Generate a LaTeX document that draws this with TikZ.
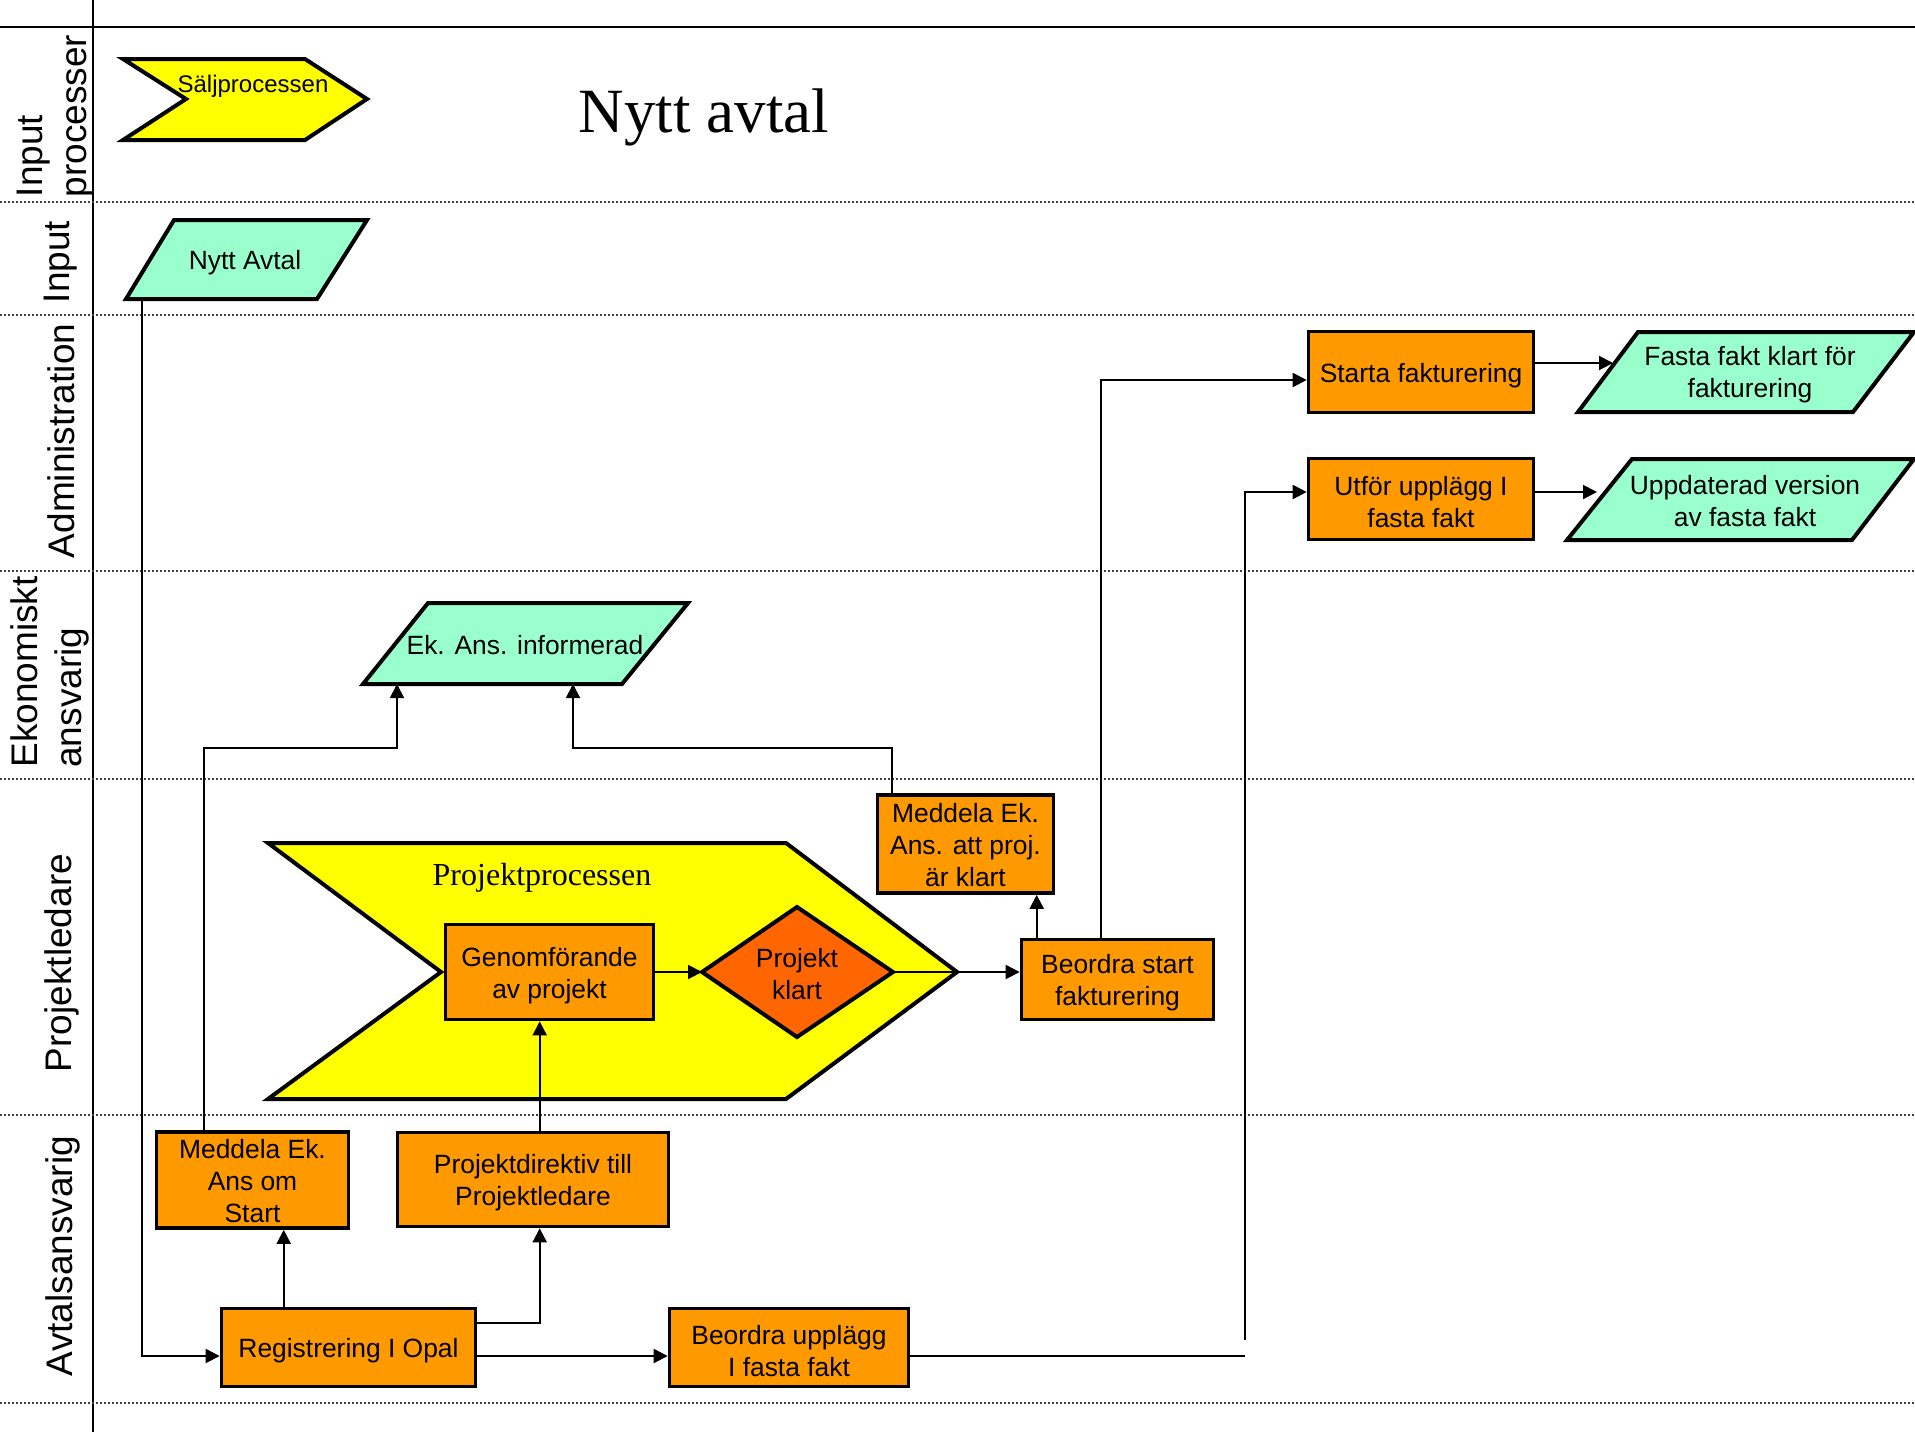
\documentclass[tikz,border=0pt]{standalone}
\usepackage{fontspec}
\setmainfont{Liberation Sans}
\newfontfamily\serifface{Liberation Serif}
\usetikzlibrary{calc,arrows.meta}

\definecolor{boxorange}{HTML}{FF9900}
\definecolor{decorange}{HTML}{FF6600}
\definecolor{procyellow}{HTML}{FFFF00}
\definecolor{datamint}{HTML}{99FFCC}

\begin{document}
\begin{tikzpicture}[x=0.5pt,y=-0.5pt,
  boxlabel/.style={inner sep=0pt, align=center, yshift=-1.7pt,
    font=\fontsize{13.2}{16}\selectfont},
  tallboxlabel/.style={boxlabel, yshift=1.4pt},
  boxbase/.style={draw=black, line width=1.8pt, fill=boxorange, inner sep=0pt},
  box/.style={boxbase, label={[boxlabel]center:{#1}}},
  tallbox/.style={boxbase, label={[tallboxlabel]center:{#1}}},
  boxtext/.style={inner sep=0pt, align=center, font=\fontsize{13.2}{16}\selectfont},
  conn/.style={line width=1pt, -{Triangle[length=7pt,width=7pt]}},
  link/.style={line width=1pt},
  lanelabel/.style={rotate=90, inner sep=0pt, font=\fontsize{18.5}{22}\selectfont},
  shapeline/.style={draw=black, line width=2pt, line join=miter},
  laneline/.style={line width=0.7pt, dash pattern=on 1pt off 1pt, black!75}]

\useasboundingbox (0,0) rectangle (1915,1432);

% swimlane frame
\draw[line width=1pt] (0,27) -- (1915,27);
\draw[line width=1pt] (93,0) -- (93,1432);
\foreach \yy in {202,315,571,779,1115,1403}
  \draw[laneline] (0,\yy) -- (1915,\yy);

% lane titles
\node[lanelabel, align=left] (lInputProc) at (56,116) {Input\\processer};
\node[lanelabel] (lInput) at (61,262) {Input};
\node[lanelabel] (lAdmin) at (61,441) {Administration};
\node[lanelabel, align=left] (lEkon) at (50,672) {Ekonomiskt\\ansvarig};
\node[lanelabel] (lPL) at (62,963) {Projektledare};
\node[lanelabel] (lAvtal) at (63,1256) {Avtalsansvarig};

% heading
\node[anchor=base, inner sep=0pt, font=\serifface\fontsize{31.5}{36}\selectfont] (title) at (704,132) {Nytt avtal};

% sales process chevron
\draw[shapeline, fill=procyellow] (123,59) -- (305,59) -- (367,99) -- (305,140) -- (123,140) -- (186,99) -- cycle;
\node[inner sep=0pt, font=\fontsize{12}{14}\selectfont] (salj) at (253,86) {Säljprocessen};

% input data
\draw[shapeline, fill=datamint] (174,220) -- (367,220) -- (317,299) -- (126,299) -- cycle;
\node[boxtext] (nyttavtal) at (245,263) {Nytt Avtal};
\coordinate (nyttavtalOut) at (142,299);

% informed data
\draw[shapeline, fill=datamint] (428,603) -- (688,603) -- (622,684) -- (363,684) -- cycle;
\node[boxtext] (ekinf) at (525,645) {Ek. Ans. informerad};
\coordinate (ekinA) at (397,684);
\coordinate (ekinB) at (573,684);
\coordinate (busY) at (0,748);

% billing outputs
\draw[shapeline, fill=datamint] (1638,332) -- (1914,332) -- (1853,412) -- (1578,412) -- cycle;
\node[boxtext] (fasta) at (1750,375) {Fasta fakt klart för\\fakturering};
\coordinate (fastaIn) at (1613,363);
\draw[shapeline, fill=datamint] (1632,459) -- (1914,459) -- (1852,540) -- (1567,540) -- cycle;
\node[boxtext] (uppd) at (1745,501) {Uppdaterad version\\av fasta fakt};
\coordinate (uppdIn) at (1597,492);

% project process chevron
\draw[shapeline, fill=procyellow] (268,843) -- (786,843) -- (957,972) -- (786,1099) -- (268,1099) -- (441,972) -- cycle;
\node[inner sep=0pt, font=\serifface\fontsize{16}{19}\selectfont] (projproc) at (542,878) {Projektprocessen};

% decision
\draw[shapeline, fill=decorange] (702,972) -- (797,907) -- (893,972) -- (797,1037) -- cycle;
\node[boxtext] (projklart) at (797,974) {Projekt\\klart};
\coordinate (pkW) at (702,972);
\coordinate (pkE) at (893,972);

% activities
\node[box={Registrering I Opal}, minimum width=254*0.5pt, minimum height=78*0.5pt] (reg) at (348.5,1347.5) {};
\node[box={Beordra upplägg\\I fasta fakt}, minimum width=239*0.5pt, minimum height=78*0.5pt] (beordraupp) at (789,1347.5) {};
\node[tallbox={Meddela Ek.\\Ans om\\Start}, minimum width=192*0.5pt, minimum height=96*0.5pt] (medstart) at (252.5,1180) {};
\node[box={Projektdirektiv till\\Projektledare}, minimum width=271*0.5pt, minimum height=94*0.5pt] (projdir) at (533,1179.5) {};
\node[box={Genomförande\\av projekt}, minimum width=208*0.5pt, minimum height=95*0.5pt] (genom) at (549.5,972) {};
\node[tallbox={Meddela Ek.\\Ans. att proj.\\är klart}, minimum width=176*0.5pt, minimum height=98*0.5pt] (medklart) at (965.5,844) {};
\node[box={Beordra start\\fakturering}, minimum width=192*0.5pt, minimum height=80*0.5pt] (beordrastart) at (1117.5,979.5) {};
\node[box={Starta fakturering}, minimum width=225*0.5pt, minimum height=81*0.5pt] (starta) at (1421,372) {};
\node[box={Utför upplägg I\\fasta fakt}, minimum width=225*0.5pt, minimum height=81*0.5pt] (utfor) at (1421,499) {};

% connectors
\draw[conn] (nyttavtalOut) |- ($(reg.west)+(0,8.5)$);
\draw[conn] ($(reg.east)+(0,8.5)$) -- ($(beordraupp.west)+(0,8.5)$);
\draw[conn] ($(reg.north west)+(64,0)$) coordinate (regUp) -- (regUp |- medstart.south);
\draw[conn] ($(reg.north east)+(0,16)$) -| ($(projdir.south west)+(144,0)$);
\draw[conn] ($(projdir.north west)+(144,0)$) coordinate (pdUp) -- (pdUp |- genom.south);
\draw[conn] (genom.east) -- (pkW);
\draw[conn] (pkE) -- (pkE -| beordrastart.west);
\draw[conn] ($(beordrastart.north west)+(17,0)$) coordinate (bsUp) -- (bsUp |- medklart.south);
\draw[conn] ($(beordrastart.north west)+(81,0)$) |- ($(starta.west)+(0,8)$);
\draw[conn] ($(medklart.north west)+(16,0)$) coordinate (mkUp) -- (mkUp |- busY) -| (ekinB);
\draw[conn] ($(medstart.north west)+(49,0)$) coordinate (msUp) -- (msUp |- busY) -| (ekinA);
\coordinate (upplCorner) at (1245,1356);
\coordinate (upplRise) at (1245,1340);
\draw[link] ($(beordraupp.east)+(0,8.5)$) -- (upplCorner);
\draw[conn] (upplRise) |- (utfor.west |- uppdIn);
\draw[conn] ($(starta.east)+(0,-9)$) -- (fastaIn);
\draw[conn] (utfor.east |- uppdIn) -- (uppdIn);

\end{tikzpicture}
\end{document}
